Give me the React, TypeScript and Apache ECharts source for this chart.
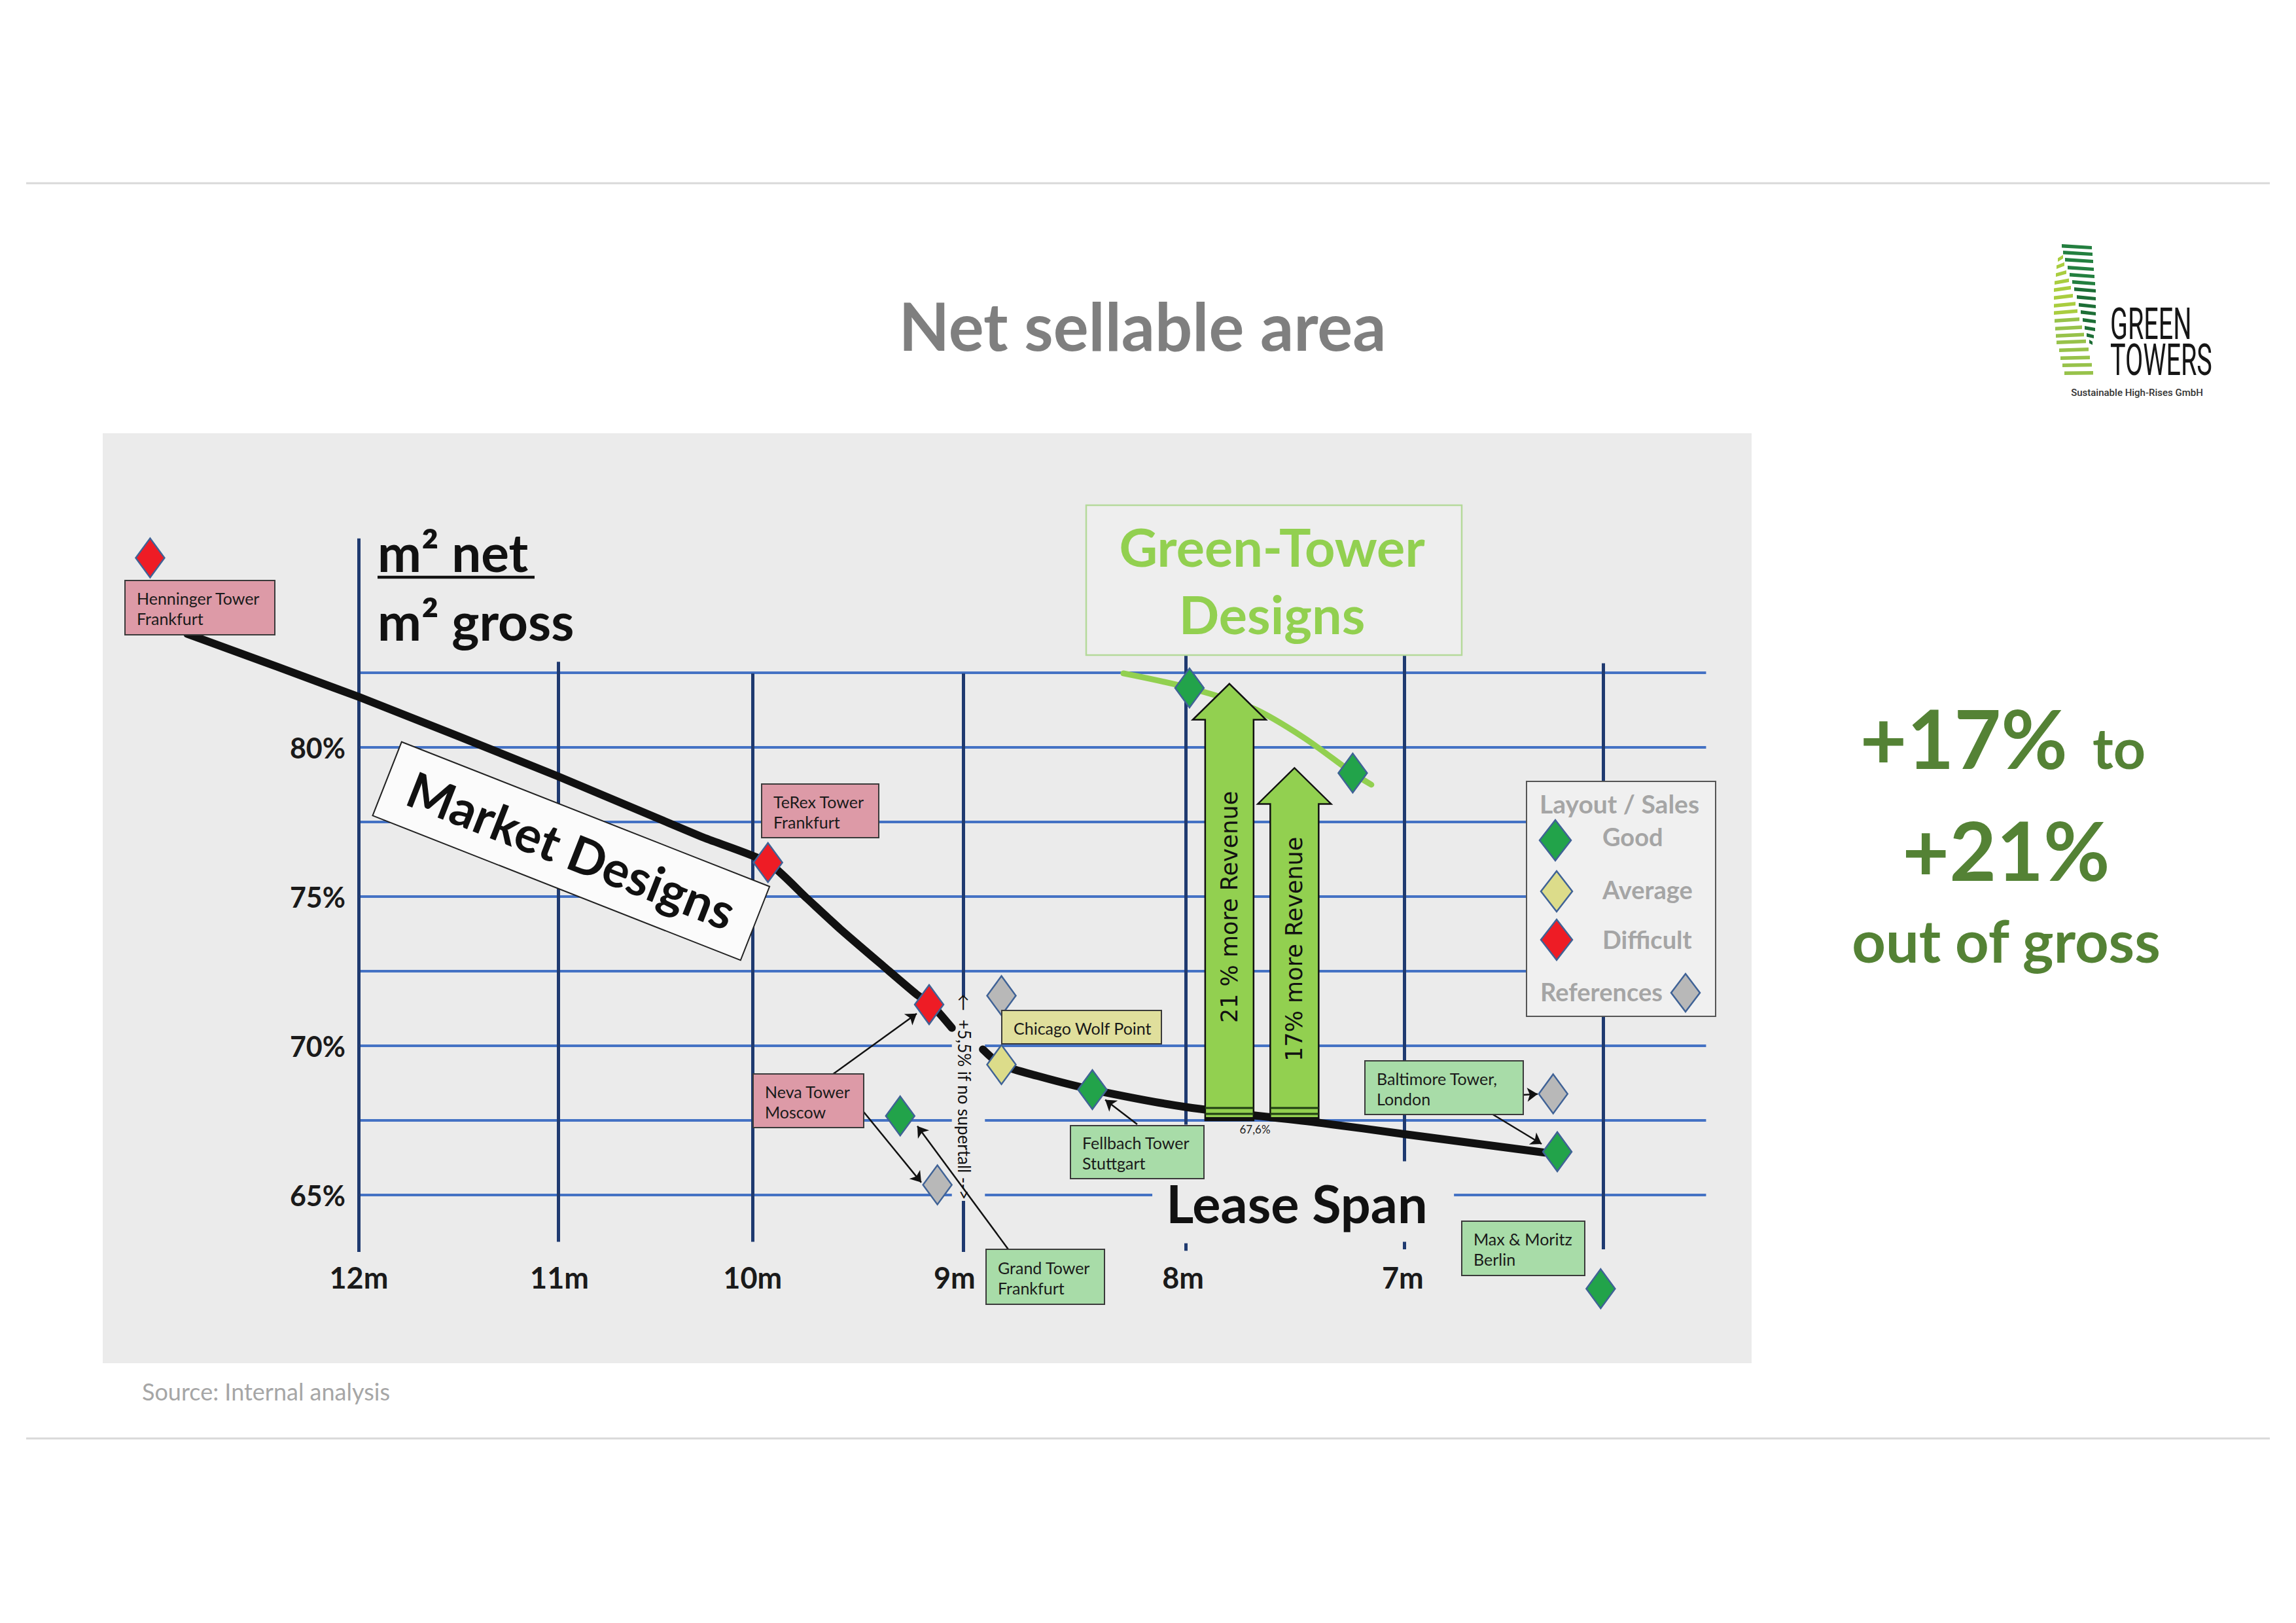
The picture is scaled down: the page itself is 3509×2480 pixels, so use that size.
import React, { useEffect, useRef } from "react";
import * as echarts from "echarts";

// ---------- data (lease span in m on x, net/gross ratio in % on y) ----------
// tick labels sit where the hand-drawn reference places them
const xTickLabels = ["12m", "11m", "10m", "9m", "8m", "7m"];
const xTickPositions = [12, 11.029, 10.094, 9.117, 8.011, 6.948];
const yTickValues = [65, 70, 75, 80];

// black "Market Designs" curve (two pieces, broken at the 9 m line)
const marketUpper = [
  [12.83, 83.8], [12.0, 81.69], [11.04, 79.04], [10.34, 77.0], [10.02, 76.14],
  [9.83, 74.93], [9.67, 73.91], [9.46, 72.66], [9.3, 71.72], [9.23, 71.39], [9.13, 70.6],
];
const marketLower = [
  [8.98, 69.88], [8.89, 69.37], [8.71, 68.98], [8.45, 68.53], [8.0, 67.95],
  [7.34, 67.41], [6.94, 67.04], [6.26, 66.42],
];
// light-green "Green-Tower Designs" curve
const greenTowerCurve = [
  [8.3, 82.48], [7.98, 81.99], [7.67, 81.3], [7.43, 80.34], [7.19, 79.14], [7.1, 78.75],
];

// towers by layout / sales rating
const goodPoints = [
  [8.45, 68.53], [9.38, 67.65], [6.2, 66.45], [5.99, 61.86], [7.98, 81.99], [7.19, 79.14],
];
const averagePoints = [[8.89, 69.37]];
const difficultPoints = [[13.01, 86.35], [10.02, 76.14], [9.24, 71.38]];
const referencePoints = [[8.89, 71.68], [9.2, 65.34], [6.22, 68.39]];

// revenue arrows: [x, base %, tip %]
const revenueArrows = [[7.787, 67.5, 82.13], [7.472, 67.5, 79.31]];
const revenueLabels = ["21 % more Revenue", "17% more Revenue"];

// hand-drawn grid: horizontal [y, xFrom, xTo], vertical [x, yFrom, yTo]
const gridH = [
  [82.5, 12, 5.48], [80, 12, 5.48], [77.5, 12, 5.48], [75, 12, 5.48], [72.5, 12, 5.48],
  [70, 12, 9.13], [70, 8.97, 5.48],
  [67.5, 12, 9.13], [67.5, 8.97, 5.48],
  [65, 12, 9.13], [65, 8.97, 8.16], [65, 6.7, 5.48],
];
const gridV = [
  [12, 87.0, 63.09], [11.036, 82.87, 63.43], [10.094, 82.48, 63.43],
  [9.074, 82.48, 71.65], [9.074, 64.8, 63.09],
  [7.997, 83.07, 67.36], [7.997, 63.38, 63.13],
  [6.941, 83.07, 66.13], [6.941, 63.43, 63.18],
  [5.977, 82.82, 63.18],
];
// thin pointer arrows from label boxes to towers
const pointerArrows = [
  [[9.715, 69.0], [9.3, 71.08]],
  [[9.575, 67.94], [9.278, 65.42]],
  [[8.857, 63.18], [9.297, 67.31]],
  [[8.233, 67.37], [8.388, 68.19]],
  [[6.476, 68.31], [6.295, 68.38]],
  [[6.517, 67.72], [6.276, 66.71]],
];

const FONT = "Lato";

function txt(text: string, x: number, y: number, size: number, o: any = {}) {
  const align = o.align ?? "left";
  const valign = o.valign ?? "middle";
  return {
    type: "text",
    x,
    y,
    z: o.z ?? 20,
    rotation: o.rotation ?? 0,
    scaleX: o.scaleX ?? 1,
    silent: true,
    style: {
      text,
      fontSize: size,
      fontFamily: o.family ?? FONT,
      fontWeight: o.weight ?? "normal",
      fill: o.color ?? "#1a1a1a",
      align,
      textAlign: align,
      verticalAlign: valign,
      textVerticalAlign: valign,
      lineHeight: o.lineHeight,
    },
  };
}

function diamond(cx: number, cy: number, w: number, h: number, fill: string) {
  return {
    type: "polygon",
    z: 21,
    silent: true,
    shape: { points: [[cx, cy - h / 2], [cx + w / 2, cy], [cx, cy + h / 2], [cx - w / 2, cy]] },
    style: { fill, stroke: "#3f6296", lineWidth: 2.5 },
  };
}

function buildGraphics() {
  const g: any[] = [];
  // separators
  g.push({ type: "line", z: 1, silent: true, shape: { x1: 40, y1: 280, x2: 3469, y2: 280 }, style: { stroke: "#d9d9d9", lineWidth: 3 } });
  g.push({ type: "line", z: 1, silent: true, shape: { x1: 40, y1: 2198, x2: 3469, y2: 2198 }, style: { stroke: "#d9d9d9", lineWidth: 3 } });
  // title
  g.push(txt("Net sellable area", 1746, 497, 101, { align: "center", weight: "bold", color: "#7f7f7f" }));
  // panel
  g.push({ type: "rect", z: 0, silent: true, shape: { x: 157, y: 662, width: 2520, height: 1421 }, style: { fill: "#ebebeb" } });
  // source
  g.push(txt("Source: Internal analysis", 217, 2126, 36, { color: "#a6a6a6" }));

  // logo stripes
  const dark = [
    [3151, 3197, 377], [3153, 3198, 387], [3156, 3199, 398], [3160, 3200, 410], [3163, 3201, 421],
    [3167, 3202, 432], [3170, 3203, 443], [3174, 3203, 455], [3177, 3203, 467], [3180, 3203, 478],
    [3183, 3203, 490], [3186, 3202, 502], [3189, 3200, 513], [3193, 3198, 523],
  ];
  const light = [
    [3145, 3153, 397], [3143, 3155, 408], [3142, 3158, 420], [3140, 3162, 432], [3139, 3165, 443],
    [3139, 3168, 455], [3139, 3172, 467], [3139, 3175, 478], [3140, 3178, 490], [3141, 3182, 502],
    [3142, 3185, 513], [3143, 3188, 523], [3147, 3192, 535], [3149, 3194, 547], [3152, 3197, 558],
    [3155, 3199, 570],
  ];
  light.forEach(([a, b, y], i) => {
    const tilt = -(5 - i * 0.3);
    g.push({ type: "polygon", z: 2, silent: true, shape: { points: [[a, y - 2.5], [b, y - 2.5 + tilt], [b, y + 3 + tilt], [a, y + 3]] }, style: { fill: i < 8 ? "#a9cd3f" : "#97c24a" } });
  });
  dark.forEach(([a, b, y], i) => {
    g.push({ type: "polygon", z: 2, silent: true, shape: { points: [[a, y - 4], [b, y - 1], [b, y + 4], [a, y + 1.5]] }, style: { fill: i < 6 ? "#237f3f" : "#1d6e36" } });
  });
  g.push(txt("GREEN", 3225, 496, 66, { family: "Roboto", scaleX: 0.6, color: "#161616" }));
  g.push(txt("TOWERS", 3225, 551, 66, { family: "Roboto", scaleX: 0.6, color: "#161616" }));
  g.push(txt("Sustainable High-Rises GmbH", 3266, 600, 15, { family: "Roboto", weight: 500, align: "center", color: "#333" }));

  // right statement
  const green = "#548235";
  g.push(txt("+17%", 3160, 1127, 124, { align: "right", weight: "bold", color: green }));
  g.push(txt("to", 3198, 1141, 86, { weight: "bold", color: green }));
  g.push(txt("+21%", 3066, 1298, 124, { align: "center", weight: "bold", color: green }));
  g.push(txt("out of gross", 3066, 1436, 90, { align: "center", weight: "bold", color: green }));

  // y-axis title
  g.push(txt("m² net", 577, 843, 80, { weight: "bold", color: "#111" }));
  g.push({ type: "line", z: 20, silent: true, shape: { x1: 577, y1: 882, x2: 817, y2: 882 }, style: { stroke: "#111", lineWidth: 4.5 } });
  g.push(txt("m² gross", 577, 948, 80, { weight: "bold", color: "#111" }));

  // Market Designs rotated box
  g.push({
    type: "group", x: 873, y: 1300, rotation: -0.375, z: 3,
    children: [
      { type: "rect", z: 3, silent: true, shape: { x: -302, y: -60, width: 604, height: 121 }, style: { fill: "#fbfbfb", stroke: "#222", lineWidth: 2 } },
      { ...txt("Market Designs", 0, -2, 76, { align: "center", weight: "bold", color: "#111", z: 3 }) },
    ],
  });

  // Green-Tower Designs box
  g.push({ type: "rect", z: 3, silent: true, shape: { x: 1660, y: 772, width: 574, height: 229 }, style: { fill: "#eeeeee", stroke: "#b5d99a", lineWidth: 2.5 } });
  g.push(txt("Green-Tower", 1944, 834, 81, { align: "center", weight: "bold", color: "#92d050" }));
  g.push(txt("Designs", 1944, 937, 81, { align: "center", weight: "bold", color: "#92d050" }));

  // legend
  g.push({ type: "rect", z: 19, silent: true, shape: { x: 2333, y: 1194, width: 289, height: 359 }, style: { fill: "#f0f0f0", stroke: "#555", lineWidth: 2 } });
  const lg = "#a5a5a5";
  g.push(txt("Layout / Sales", 2353, 1228, 39, { weight: "bold", color: lg }));
  g.push(diamond(2377, 1284, 48, 62, "#22a34a"));
  g.push(txt("Good", 2449, 1278, 38, { weight: "bold", color: lg }));
  g.push(diamond(2379, 1362, 48, 62, "#dcdc8a"));
  g.push(txt("Average", 2449, 1359, 38, { weight: "bold", color: lg }));
  g.push(diamond(2379, 1436, 48, 62, "#ee1c25"));
  g.push(txt("Difficult", 2449, 1435, 38, { weight: "bold", color: lg }));
  g.push(txt("References", 2354, 1515, 38, { weight: "bold", color: lg }));
  g.push(diamond(2576, 1517, 44, 58, "#b8b8b8"));

  // label boxes
  const pink = "#dd9aa7", yel = "#e0df9c", grn = "#a8dca8";
  const boxes: [string, number, number, number, number, string][] = [
    ["Henninger Tower\nFrankfurt", 191, 887, 229, 83, pink],
    ["TeRex Tower\nFrankfurt", 1164, 1198, 179, 82, pink],
    ["Neva Tower\nMoscow", 1151, 1641, 169, 82, pink],
    ["Chicago Wolf Point", 1531, 1544, 244, 51, yel],
    ["Fellbach Tower\nStuttgart", 1636, 1720, 204, 81, grn],
    ["Grand Tower\nFrankfurt", 1507, 1909, 181, 84, grn],
    ["Baltimore Tower,\nLondon", 2086, 1621, 242, 82, grn],
    ["Max & Moritz\nBerlin", 2234, 1866, 188, 83, grn],
  ];
  boxes.forEach(([t, x, y, w, h, f]) => {
    g.push({ type: "rect", z: 19, silent: true, shape: { x, y, width: w, height: h }, style: { fill: f, stroke: "#3a3a3a", lineWidth: 2 } });
    g.push(txt(t, x + 18, y + h / 2 + 1, 25, { lineHeight: 31, color: "#1a1a1a" }));
  });

  // annotations
  g.push(txt("←  +5,5% if no supertall -->", 1474, 1676, 26, { align: "center", rotation: -Math.PI / 2, color: "#111" }));
  g.push(txt("Lease Span", 1982, 1837, 81, { align: "center", weight: "bold", color: "#111" }));
  g.push(txt("67,6%", 1918, 1725, 17, { align: "center", color: "#222" }));
  return g;
}

function scatter(name: string, data: number[][], color: string) {
  return {
    type: "scatter",
    name,
    data,
    z: 8,
    clip: false,
    symbol: "diamond",
    symbolSize: [44, 60],
    itemStyle: { color, borderColor: "#3f6296", borderWidth: 2.5, opacity: 1 },
    silent: true,
  };
}

function curve(data: number[][], color: string, width: number, smooth: number) {
  return {
    type: "line",
    data,
    z: 5,
    clip: false,
    smooth,
    symbol: "none",
    showSymbol: false,
    silent: true,
    lineStyle: { color, width, cap: "round", join: "round" },
  };
}

export default function App() {
  const ref = useRef<HTMLDivElement>(null);
  useEffect(() => {
    const chart = echarts.init(ref.current!, null, { renderer: "svg" });
    const nearestLabel = (v: number) => {
      let best = 0;
      xTickPositions.forEach((p, i) => {
        if (Math.abs(p - v) < Math.abs(xTickPositions[best] - v)) best = i;
      });
      return Math.abs(xTickPositions[best] - v) < 0.01 ? xTickLabels[best] : "";
    };
    const option: any = {
      animation: false,
      backgroundColor: "#ffffff",
      textStyle: { fontFamily: FONT },
      grid: { left: 201, top: 800, width: 2558, height: 1140, containLabel: false },
      xAxis: {
        type: "value", min: 5, max: 13.1, interval: 1, inverse: true,
        axisLine: { show: false }, axisTick: { show: false }, splitLine: { show: false },
        axisLabel: {
          customValues: xTickPositions,
          formatter: (v: number) => nearestLabel(v),
          showMinLabel: true, showMaxLabel: true,
          margin: 12, verticalAlign: "middle", fontSize: 45, fontWeight: "bold", color: "#1a1a1a", fontFamily: FONT,
        },
      },
      yAxis: {
        type: "value", min: 62.5, max: 87.5, interval: 2.5, offset: -347,
        axisLine: { show: false }, axisTick: { show: false }, splitLine: { show: false },
        axisLabel: {
          formatter: (v: number) => (yTickValues.includes(v) ? `${v}%` : ""),
          margin: 20, fontSize: 43, fontWeight: "bold", color: "#1a1a1a", fontFamily: FONT,
        },
      },
      series: [
        {
          type: "lines", coordinateSystem: "cartesian2d", z: 1, silent: true,
          lineStyle: { color: "#4472c4", width: 4, opacity: 1, curveness: 0 },
          data: gridH.map(([y, a, b]) => ({ coords: [[a, y], [b, y]] })),
        },
        {
          type: "lines", coordinateSystem: "cartesian2d", z: 1, silent: true,
          lineStyle: { color: "#1f3a70", width: 5, opacity: 1, curveness: 0 },
          data: gridV.map(([x, a, b]) => ({ coords: [[x, a], [x, b]] })),
        },
        curve(marketUpper, "#111111", 12, 0.2),
        curve(marketLower, "#111111", 12, 0.3),
        curve(greenTowerCurve, "#92d050", 9, 0.3),
        {
          type: "custom", z: 6, silent: true, clip: false,
          encode: { x: 0, y: [1, 2] },
          data: revenueArrows,
          renderItem: (params: any, api: any) => {
            const x = api.value(0);
            const pb = api.coord([x, api.value(1)]);
            const pt = api.coord([x, api.value(2)]);
            const sw = 37, hw = 56, hh = 55;
            const cx = pb[0];
            const hb = pt[1] + hh;
            const pts = [[cx - sw, pb[1]], [cx - sw, hb], [cx - hw, hb], [cx, pt[1]], [cx + hw, hb], [cx + sw, hb], [cx + sw, pb[1]]];
            return {
              type: "group",
              children: [
                { type: "polygon", shape: { points: pts }, style: { fill: "#92d050", stroke: "#111", lineWidth: 2.5, lineJoin: "miter" } },
                { type: "line", shape: { x1: cx - sw, y1: pb[1] - 19, x2: cx + sw, y2: pb[1] - 19 }, style: { stroke: "#1f3d12", lineWidth: 3 } },
                { type: "line", shape: { x1: cx - sw, y1: pb[1] - 10, x2: cx + sw, y2: pb[1] - 10 }, style: { stroke: "#1f3d12", lineWidth: 3 } },
                { type: "rect", shape: { x: cx - sw, y: pb[1] - 5, width: 2 * sw, height: 5 }, style: { fill: "#111" } },
                {
                  type: "text", x: cx, y: (pb[1] + hb) / 2 - 20, rotation: Math.PI / 2,
                  style: {
                    text: revenueLabels[params.dataIndex], fontSize: 35, fontFamily: "DejaVu Sans", fill: "#111",
                    align: "center", textAlign: "center", verticalAlign: "middle", textVerticalAlign: "middle",
                  },
                },
              ],
            };
          },
        },
        {
          type: "lines", coordinateSystem: "cartesian2d", z: 7, silent: true,
          symbol: ["none", "arrow"], symbolSize: 16,
          lineStyle: { color: "#111", width: 2.5, opacity: 1, curveness: 0 },
          data: pointerArrows.map((c) => ({ coords: c })),
        },
        scatter("Good", goodPoints, "#22a34a"),
        scatter("Average", averagePoints, "#dcdc8a"),
        scatter("Difficult", difficultPoints, "#ee1c25"),
        scatter("References", referencePoints, "#b8b8b8"),
      ],
      graphic: buildGraphics(),
    };
    chart.setOption(option);
    return () => chart.dispose();
  }, []);
  return (
    <div
      ref={ref}
      style={{ position: "absolute", left: 0, top: 0, width: 3509, height: 2480, background: "#ffffff" }}
    />
  );
}
